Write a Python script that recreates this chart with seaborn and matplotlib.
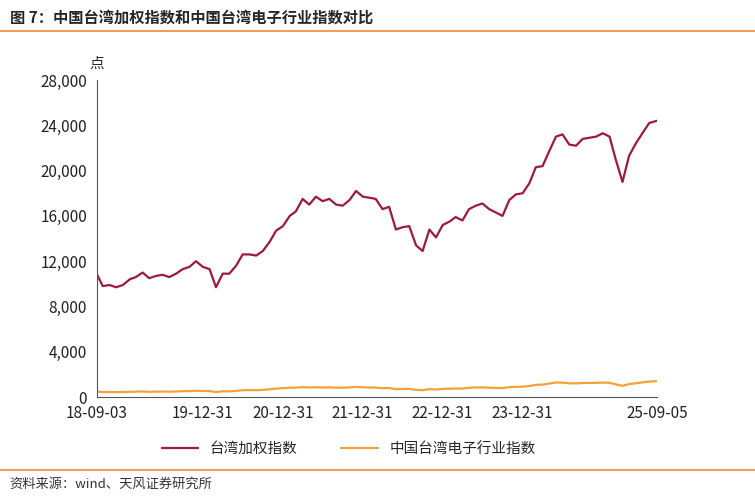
import matplotlib
matplotlib.use("Agg")
import matplotlib.pyplot as plt
import seaborn as sns
import pandas as pd

sns.set_style("white")
plt.rcParams['font.family'] = ['Noto Sans CJK SC', 'DejaVu Sans']

months = pd.date_range('2018-09-01', '2025-09-01', freq='MS').tolist()
months[0] = pd.Timestamp('2018-09-03'); months[-1] = pd.Timestamp('2025-09-05')
taiex = [10900, 9800, 9900, 9700,
         9900, 10400, 10600, 11000, 10500, 10700, 10800, 10600, 10900, 11300, 11500, 12000,
         11500, 11300, 9700, 10900, 10900, 11600, 12600, 12600, 12500, 12900, 13700, 14700,
         15100, 16000, 16400, 17500, 17000, 17700, 17300, 17500, 17000, 16900, 17400, 18200,
         17700, 17600, 17500, 16600, 16800, 14800, 15000, 15100, 13400, 12900, 14800, 14100,
         15200, 15500, 15900, 15600, 16600, 16900, 17100, 16600, 16300, 16000, 17400, 17900,
         18000, 18900, 20300, 20400, 21700, 23000, 23200, 22300, 22200, 22800, 22900, 23000,
         23300, 23000, 21000, 19000, 21300, 22400, 23300, 24200, 24400]
elec = [500, 440, 450, 440,
        450, 470, 480, 500, 470, 480, 490, 480, 500, 520, 530, 560,
        540, 530, 450, 510, 510, 550, 610, 620, 610, 640, 690, 750,
        790, 830, 840, 880, 850, 870, 850, 860, 830, 830, 860, 900,
        870, 850, 840, 790, 800, 700, 720, 720, 640, 610, 700, 670,
        730, 740, 760, 750, 830, 850, 860, 830, 810, 800, 880, 910,
        920, 980, 1080, 1100, 1190, 1290, 1280, 1220, 1210, 1250, 1250, 1260,
        1280, 1260, 1130, 1000, 1150, 1220, 1300, 1370, 1400]
names = ['台湾加权指数', '中国台湾电子行业指数']
df = pd.DataFrame({'date': months * 2, 'value': taiex + elec,
                   'series': [names[0]] * len(months) + [names[1]] * len(months)})

fig = plt.figure(figsize=(7.55, 4.97), dpi=100)
ax = fig.add_axes([0.128, 0.201, 0.742, 0.638])
sns.lineplot(data=df, x='date', y='value', hue='series',
             palette=['#9B1B3A', '#F5A03A'], linewidth=1.6, ax=ax)
ax.set_xlim(pd.Timestamp('2018-09-03'), pd.Timestamp('2025-09-05'))
ax.set_ylim(0, 28000)
ax.set_yticks(range(0, 28001, 4000))
ax.yaxis.set_major_formatter(matplotlib.ticker.FuncFormatter(lambda v, p: f'{int(v):,}'))
ticks = [pd.Timestamp(t) for t in ['2018-09-03', '2019-12-31', '2020-12-31', '2021-12-31',
                                   '2022-12-31', '2023-12-31', '2024-12-31', '2025-09-05']]
ax.set_xticks(ticks)
ax.set_xticklabels(['18-09-03', '19-12-31', '20-12-31', '21-12-31', '22-12-31', '23-12-31', '', '25-09-05'])
ax.set_xlabel(''); ax.set_ylabel('')
for s in ['top', 'right']:
    ax.spines[s].set_visible(False)
for s in ['left', 'bottom']:
    ax.spines[s].set_color('#555555')
ax.tick_params(axis='both', length=4, color='#555555', labelsize=11, labelcolor='#222222', direction='out')
ax.tick_params(axis='x', direction='in', length=5, pad=6)
ax.tick_params(axis='y', pad=3)
ax.text(-0.0, 1.04, '点', transform=ax.transAxes, fontsize=10.5, ha='center')
ax.legend(loc='upper center', bbox_to_anchor=(0.45, -0.1), ncol=2, frameon=False, fontsize=10.5,
          handlelength=2.5, columnspacing=3)
fig.text(0.013, 0.965, '图 7：中国台湾加权指数和中国台湾电子行业指数对比', fontsize=11, fontweight='bold', va='center')
fig.add_artist(plt.Line2D([0, 1], [0.937, 0.937], color='#F08A2C', lw=1.2, transform=fig.transFigure))
fig.add_artist(plt.Line2D([0, 1], [0.055, 0.055], color='#F08A2C', lw=1.2, transform=fig.transFigure))
fig.text(0.013, 0.025, '资料来源：wind、天风证券研究所', fontsize=9.5, va='center', color='#333333')
fig.savefig('out.png', dpi=100)
